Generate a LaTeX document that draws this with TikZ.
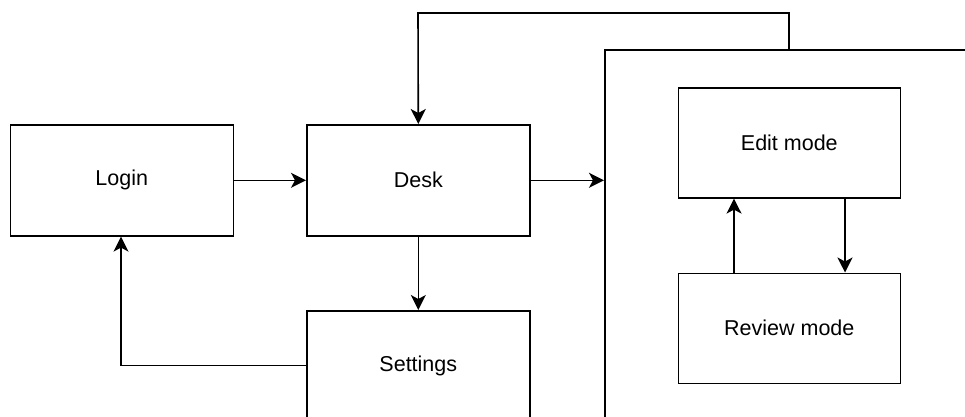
\documentclass[tikz,border=0pt]{standalone}
\usepackage{fontspec}
\setmainfont{Liberation Sans}
\usetikzlibrary{arrows.meta}
\begin{document}
\begin{tikzpicture}[x=1pt,y=-1pt,
  box/.style={draw,line width=1.6pt,rectangle,minimum width=223pt,minimum height=111pt,inner sep=0pt,font=\fontsize{21.5}{25}\selectfont},
  conn/.style={line width=1.6pt,-{Stealth[length=15pt,width=15pt,inset=4pt]}}]
\useasboundingbox (0,0) rectangle (965,417);
\clip (0,0) rectangle (965,417);
\node[box,anchor=north west] (login) at (9.5,124) {Login};
\node[box,anchor=north west] (desk) at (306,124) {Desk};
\node[box,anchor=north west] (settings) at (306,310) {Settings};
\node[draw,line width=1.6pt,rectangle,anchor=north west,minimum width=450pt,minimum height=420pt,inner sep=0pt] (cont) at (604,49) {};
\node[box,anchor=north west,minimum width=222pt,minimum height=110pt] (edit) at (677.5,87) {Edit mode};
\node[box,anchor=north west,minimum width=222pt,minimum height=110pt] (review) at (677.5,272.5) {Review mode};
\coordinate (ctop) at (789,49);
\draw[conn] (login) -- (desk);
\draw[conn] (desk.east) -- (desk.east -| cont.west);
\draw[conn] (desk) -- (settings);
\draw[conn] (settings.west |- 0,365.5) -| (login.south -| 121,0);
\draw[conn] (ctop) |- (418,13) -- (desk.north);
\draw[conn] (edit.south -| 845,0) -- (review.north -| 845,0);
\draw[conn] (review.north -| 734,0) -- (edit.south -| 734,0);
\end{tikzpicture}
\end{document}
